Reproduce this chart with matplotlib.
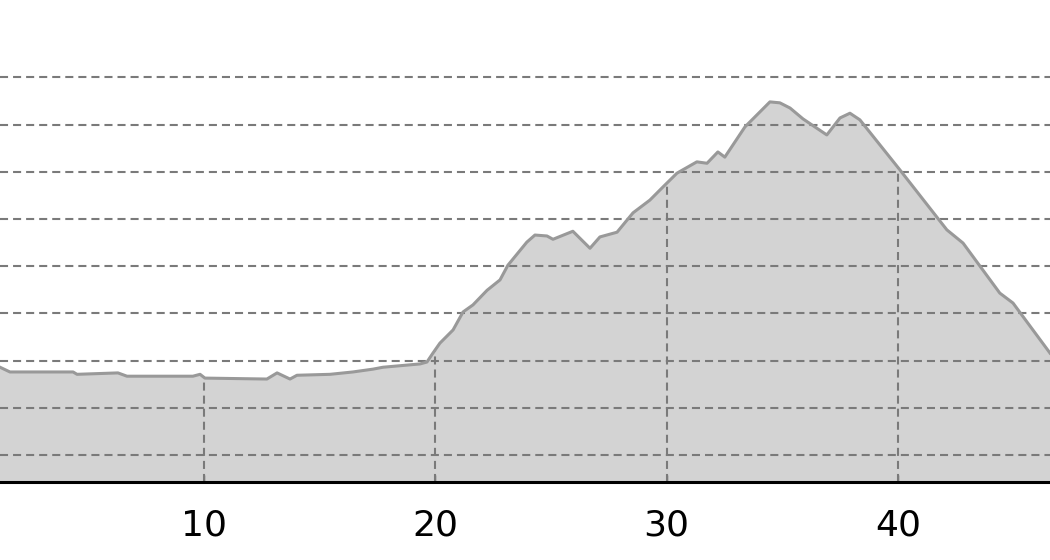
import matplotlib
matplotlib.use("Agg")
import matplotlib.pyplot as plt
import numpy as np

plt.rcParams['lines.scale_dashes'] = False

# distance (km) and elevation (m)
distance = [1.18, 1.61, 4.34, 4.51, 6.28, 6.67, 9.52, 9.83, 10.04, 12.72,
            13.16, 13.72, 14.02, 15.45, 16.44, 17.31, 17.74, 19.34, 19.64, 19.90,
            20.20, 20.77, 21.20, 21.63, 22.24, 22.80, 23.14, 23.96, 24.31, 24.83,
            25.09, 25.95, 26.69, 27.12, 27.86, 28.55, 29.28, 29.85, 30.45, 31.31,
            31.75, 32.22, 32.52, 33.39, 34.47, 34.90, 35.34, 35.90, 36.93, 37.50,
            37.93, 38.36, 40.09, 42.12, 42.82, 44.41, 44.98, 45.84, 46.58]
elevation = [286, 276, 276, 271, 274, 267, 267, 271, 263, 261,
             274, 261, 269, 271, 276, 282, 286, 293, 297, 316,
             337, 365, 403, 418, 449, 471, 502, 551, 566, 564,
             557, 574, 538, 562, 572, 613, 640, 668, 697, 721,
             718, 742, 731, 795, 848, 846, 835, 812, 778, 814,
             824, 810, 704, 577, 549, 443, 422, 365, 316]
x_ticks = [10, 20, 30, 40]
y_grid = [100, 200, 300, 400, 500, 600, 700, 800, 900]

x = np.array(distance)
y = np.array(elevation)

fig = plt.figure(figsize=(10.5, 5.6), dpi=100)
ax = fig.add_axes([0, 0.139, 1, 0.861])

ymin, ymax = 42.6, 1063.8
ax.set_xlim(x[0], x[-1])
ax.set_ylim(ymin, ymax)

ax.fill_between(x, ymin, y, color='#d3d3d3', zorder=1)
ax.plot(x, y, color='#999999', lw=2.2, zorder=3)

dash = (0, (5.8, 3.6))
for g in y_grid:
    ax.axhline(g, color='#7a7a7a', lw=1.5, ls=dash, zorder=2)
# vertical grid only below the profile
ax.vlines(x_ticks, ymin, np.interp(x_ticks, x, y), color='#7a7a7a',
          lw=1.5, ls=dash, zorder=2)

ax.set_xticks(x_ticks)
ax.set_yticks([])
ax.tick_params(axis='x', direction='in', length=5, width=1, color='#555555',
               labelsize=26, pad=19)
for s in ['left', 'right', 'top']:
    ax.spines[s].set_visible(False)
ax.spines['bottom'].set_linewidth(2.2)
ax.spines['bottom'].set_color('black')
ax.spines['bottom'].set_zorder(4)

fig.savefig('out.png', dpi=100)
